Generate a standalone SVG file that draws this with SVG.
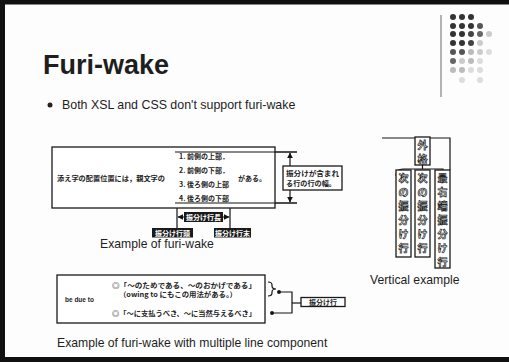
<svg xmlns="http://www.w3.org/2000/svg" width="509" height="362" viewBox="0 0 509 362">
<defs>
<marker id="ah" viewBox="0 0 10 10" refX="9" refY="5" markerWidth="5" markerHeight="5" orient="auto-start-reverse"><path d="M0 0 L10 5 L0 10 z" fill="#111"/></marker>
<marker id="dot" viewBox="0 0 10 10" refX="5" refY="5" markerWidth="4" markerHeight="4"><circle cx="5" cy="5" r="4" fill="#111"/></marker>
<style>
.ln{fill:none;stroke:#151515;stroke-width:1.2}
.lat{font-family:"Liberation Sans",Arial,sans-serif;fill:#1e1e1e}
.jp{font-family:"Noto Sans CJK JP","Noto Sans",sans-serif;font-weight:700;fill:#222;font-size:7px}
.lbl{fill:#1a1a1a}
.lblt{font-family:"Noto Sans CJK JP",sans-serif;font-weight:700;fill:#fff;font-size:7px}
.vt{font-family:"Noto Sans CJK JP",sans-serif;font-weight:700;font-size:10px;fill:#fff;stroke:#222;stroke-width:0.7;text-anchor:middle}
.box{fill:#fff;stroke:#1a1a1a;stroke-width:1.3}
</style>
</defs>
<rect width="509" height="362" fill="#fdfdfd"/>
<path d="M509 2 H2.5 V359.5 H509" fill="none" stroke="#111" stroke-width="5"/>
<g id="decor">
<line x1="441" y1="15" x2="441" y2="97" stroke="#9a9a9a" stroke-width="1.5"/>
<g>
<circle cx="453" cy="17" r="3" fill="#333"/><circle cx="462" cy="17" r="3" fill="#333"/><circle cx="471" cy="17" r="3" fill="#333"/>
<circle cx="453" cy="26" r="3" fill="#333"/><circle cx="462" cy="26" r="3" fill="#333"/><circle cx="471" cy="26" r="3" fill="#333"/><circle cx="480" cy="26" r="3" fill="#555"/>
<circle cx="453" cy="34" r="3" fill="#333"/><circle cx="462" cy="34" r="3" fill="#333"/><circle cx="471" cy="34" r="3" fill="#444"/><circle cx="480" cy="34" r="3" fill="#666"/><circle cx="489" cy="34" r="3" fill="#ccc"/>
<circle cx="453" cy="43" r="3" fill="#333"/><circle cx="462" cy="43" r="3" fill="#333"/><circle cx="471" cy="43" r="3" fill="#444"/><circle cx="480" cy="43" r="3" fill="#ccc"/>
<circle cx="453" cy="52" r="3" fill="#555"/><circle cx="462" cy="52" r="3" fill="#555"/><circle cx="471" cy="52" r="3" fill="#bbb"/><circle cx="480" cy="52" r="3" fill="#ccc"/><circle cx="489" cy="52" r="3" fill="#ddd"/>
<circle cx="453" cy="61" r="3" fill="#666"/><circle cx="462" cy="61" r="3" fill="#ccc"/><circle cx="471" cy="61" r="3" fill="#bbb"/><circle cx="480" cy="61" r="3" fill="#ddd"/>
<circle cx="453" cy="70" r="3" fill="#bbb"/><circle cx="462" cy="70" r="3" fill="#bbb"/><circle cx="471" cy="70" r="3" fill="#ddd"/><circle cx="480" cy="70" r="3" fill="#ddd"/>
<circle cx="462" cy="80" r="3" fill="#ddd"/><circle cx="480" cy="80" r="3" fill="#ddd"/>
</g>
</g>
<g id="title"><text class="lat" x="43" y="74" font-size="27" font-weight="700">Furi-wake</text></g>
<g id="bullet">
<circle cx="50" cy="105" r="2.5" fill="#222"/>
<text class="lat" x="62" y="109" font-size="12.4">Both XSL and CSS don't support furi-wake</text>
</g>

<g id="connectors">
<path class="ln" d="M175 152 H297 M175 203 H297"/>
<path class="ln" d="M177 148 V228 M230 152 V228"/>
<line class="ln" x1="290" y1="153" x2="290" y2="202" marker-start="url(#ah)" marker-end="url(#ah)"/>
<line class="ln" x1="178" y1="217" x2="229" y2="217" marker-start="url(#ah)" marker-end="url(#ah)"/>
<path class="ln" d="M176 153 Q173 153 173 156 V175 Q173 178 170 178 Q173 178 173 181 V200 Q173 203 176 203"/>
<path class="ln" d="M231 160 Q234 160 234 163 V175 Q234 178 237 178 Q234 178 234 181 V193 Q234 196 231 196"/>
<path class="ln" d="M110 281 Q106 281 106 285 V295 Q106 299 102 299 Q106 299 106 303 V313 Q106 317 110 317"/>
<path class="ln" d="M268 282 Q272 282 272 285 V286 Q272 289 276 289 Q272 289 272 292 V293 Q272 296 268 296"/>
<path class="ln" d="M279 292 H292 V313 H272" marker-start="url(#dot)" marker-end="url(#dot)"/>
<path class="ln" d="M292 303 H301"/>
<path class="ln" d="M382 138 H450 V170"/>
<path class="ln" d="M422.5 165 V169 M396 176 Q396 169 403 169 H443 V170"/>
</g>

<g id="furiwake1">
<rect class="box" x="52" y="147" width="223" height="61" fill="none"/>
<path class="ln" d="M175 152 H297 M175 203 H297"/>
<text class="jp" x="57" y="180.5" textLength="108" lengthAdjust="spacingAndGlyphs">添え字の配置位置には，親文字の</text>
<text class="jp" x="179" y="158.5">1. 前側の上部．</text>
<text class="jp" x="179" y="172.5">2. 前側の下部．</text>
<text class="jp" x="179" y="186.5">3. 後ろ側の上部</text>
<text class="jp" x="179" y="200.5">4. 後ろ側の下部</text>
<text class="jp" x="238" y="180.5">がある。</text>
</g>
<g id="note1">
<rect class="box" x="283" y="166" width="59" height="24" stroke-width="1.6"/>
<text class="jp" x="286" y="176" font-size="7.5" textLength="53" lengthAdjust="spacingAndGlyphs">振分けが含まれ</text>
<text class="jp" x="286" y="186" font-size="7.5" textLength="50" lengthAdjust="spacingAndGlyphs">る行の行の幅。</text>
</g>
<g id="label-mid"><rect class="lbl" x="184" y="212" width="39" height="10"/><text class="lblt" x="203.5" y="219.8" text-anchor="middle">振分け行長</text></g>
<g id="label-left"><rect class="lbl" x="152" y="228" width="41" height="9.5"/><text class="lblt" x="172.5" y="235.5" text-anchor="middle">振分け行頭</text></g>
<g id="label-right"><rect class="lbl" x="214" y="228" width="37" height="9.5"/><text class="lblt" x="232.5" y="235.5" text-anchor="middle">振分け行末</text></g>
<g id="caption1"><text class="lat" x="100" y="248" font-size="12.2">Example of furi-wake</text></g>

<g id="furiwake2">
<rect class="box" x="57" y="275" width="208" height="48" fill="none" stroke-width="2"/>
<text class="lat" x="65" y="301.5" font-size="6.5" font-weight="700">be due to</text>
<text class="jp" x="112" y="288" font-size="7.4" textLength="144" lengthAdjust="spacingAndGlyphs">◎「～のためである、～のおかげである」</text>
<text class="jp" x="119" y="297" font-size="7" textLength="118" lengthAdjust="spacingAndGlyphs">（owing to にもこの用法がある。）</text>
<text class="jp" x="112" y="316" font-size="7.4" textLength="144" lengthAdjust="spacingAndGlyphs">◎「～に支払うべき、～に当然与えるべき」</text>
</g>
<g id="label-bottom"><rect class="box" x="301" y="297.5" width="44" height="9" stroke-width="1.6"/><text class="jp" x="323" y="304.8" text-anchor="middle">振分け行</text></g>
<g id="caption2"><text class="lat" x="57" y="347" font-size="12.2">Example of furi-wake with multiple line component</text></g>

<g id="vertical">
<rect class="box" x="415" y="137" width="15" height="28"/>
<text class="vt"><tspan x="422.5" y="148.5">外</tspan><tspan x="422.5" y="162.5">格</tspan></text>
<rect class="box" x="396" y="170" width="15" height="87"/>
<text class="vt"><tspan x="403.5" y="182">次</tspan><tspan x="403.5" y="196">の</tspan><tspan x="403.5" y="210">振</tspan><tspan x="403.5" y="224">分</tspan><tspan x="403.5" y="238">け</tspan><tspan x="403.5" y="252">行</tspan></text>
<rect class="box" x="415" y="170" width="15" height="87"/>
<text class="vt"><tspan x="422.5" y="182">次</tspan><tspan x="422.5" y="196">の</tspan><tspan x="422.5" y="210">振</tspan><tspan x="422.5" y="224">分</tspan><tspan x="422.5" y="238">け</tspan><tspan x="422.5" y="252">行</tspan></text>
<rect class="box" x="435" y="170" width="15" height="98"/>
<text class="vt"><tspan x="442.5" y="182">最</tspan><tspan x="442.5" y="196">右</tspan><tspan x="442.5" y="210">端</tspan><tspan x="442.5" y="224">振</tspan><tspan x="442.5" y="238">分</tspan><tspan x="442.5" y="252">け</tspan><tspan x="442.5" y="266">行</tspan></text>
<text class="lat" x="370" y="284" font-size="12.2">Vertical example</text>
</g>
</svg>
